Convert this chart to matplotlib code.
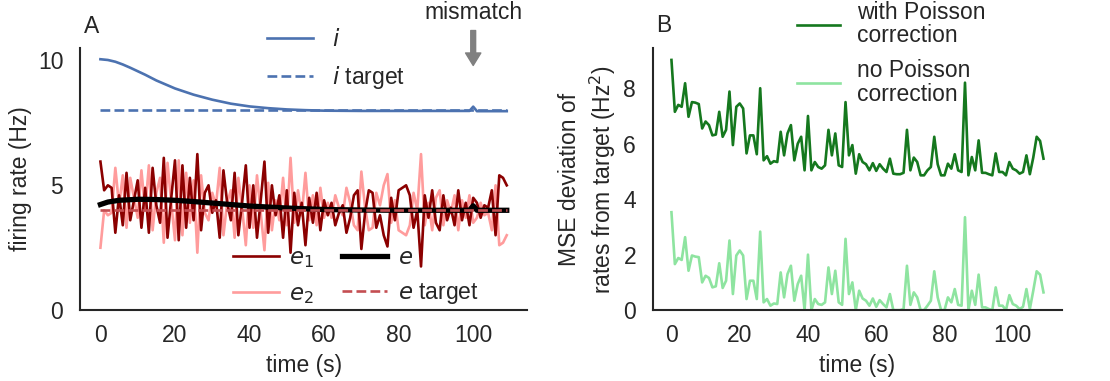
import numpy as np
import matplotlib
matplotlib.use("Agg")
import matplotlib.pyplot as plt

plt.rcParams['font.family'] = ['Liberation Sans', 'DejaVu Sans']
plt.rcParams['font.size'] = 16.5
plt.rcParams['text.color'] = '#262626'
plt.rcParams['axes.labelcolor'] = '#262626'
plt.rcParams['xtick.color'] = '#262626'
plt.rcParams['ytick.color'] = '#262626'

# time axis (s)
t = list(range(110))

# smooth rates (coarse samples)
i_time = [0, 2, 4, 6, 8, 10, 12, 15, 20, 25, 30, 35, 40, 45, 50, 55, 60, 70, 80, 90,
          99, 100, 101, 109]
i_rate = [10.05, 10.02, 9.95, 9.84, 9.71, 9.57, 9.43, 9.2, 8.88, 8.63, 8.43, 8.27,
          8.16, 8.09, 8.04, 8.01, 7.99, 7.98, 7.98, 7.98, 7.98, 8.15, 7.97, 7.97]
e_time = [0, 2, 5, 10, 15, 20, 25, 30, 35, 40, 45, 50, 55, 60, 70, 80, 90, 99, 100, 101, 109]
e_rate = [4.23, 4.33, 4.40, 4.44, 4.43, 4.40, 4.35, 4.29, 4.23, 4.17, 4.13, 4.09, 4.06,
          4.03, 4.01, 4.0, 4.0, 4.0, 4.18, 4.0, 4.0]
i_target = 8.0
e_target = 4.0

e1 = [5.95, 4.8, 5.0, 4.9, 3.1, 4.6, 3.4, 5.5, 3.6, 4.4, 5.2, 3.3, 4.9, 3.1, 5.7, 4.2,
      3.5, 6.1, 2.9, 4.5, 6.0, 2.8, 5.8, 3.3, 5.3, 3.6, 6.25, 3.2, 4.7, 5.0, 3.9, 4.4,
      2.9, 5.6, 4.3, 3.6, 5.5, 3.0, 4.3, 5.8, 3.3, 5.0, 2.9, 4.4, 5.95, 3.1, 5.0, 3.8,
      4.6, 2.9, 4.8, 2.3, 4.7, 3.4, 4.3, 2.6, 4.5, 3.5, 4.7, 3.2, 4.4, 3.8, 4.3, 3.4,
      3.9, 4.2, 3.1, 3.7, 4.6, 4.8, 2.45, 3.9, 4.8, 4.7, 3.3, 3.8, 3.0, 2.55, 4.5, 3.6,
      4.8, 4.9, 5.0, 4.6, 3.3, 4.0, 1.75, 4.6, 3.7, 4.8, 3.5, 3.2, 4.6, 3.6, 4.1, 3.4,
      4.8, 3.6, 4.3, 3.4, 4.5, 4.3, 3.7, 4.2, 4.1, 4.8, 3.0, 5.4, 5.3, 5.0]
e2 = [2.5, 4.0, 3.8, 3.9, 5.7, 4.2, 5.4, 3.3, 5.3, 4.5, 3.7, 5.6, 4.0, 5.8, 3.2, 4.7,
      5.3, 2.7, 5.9, 4.3, 2.8, 6.0, 3.0, 5.5, 3.5, 5.2, 2.3, 5.4, 3.9, 3.6, 4.7, 4.2,
      5.7, 3.0, 4.3, 4.8, 2.9, 5.3, 4.1, 2.6, 5.0, 3.3, 5.4, 3.9, 2.4, 5.1, 3.2, 4.4,
      3.6, 5.3, 3.4, 6.1, 3.5, 4.8, 3.8, 5.5, 3.6, 4.6, 3.4, 4.9, 3.7, 4.3, 3.7, 4.6,
      4.1, 3.8, 4.9, 4.3, 3.4, 3.2, 5.55, 4.1, 3.2, 3.3, 4.7, 4.2, 5.0, 5.45, 3.5, 4.4,
      3.2, 3.1, 3.0, 3.4, 4.7, 4.0, 6.25, 3.4, 4.3, 3.2, 4.5, 4.8, 3.4, 4.4, 3.9, 4.6,
      3.2, 4.4, 3.7, 4.6, 3.5, 3.7, 4.3, 3.8, 3.9, 3.2, 5.0, 2.6, 2.7, 3.0]

# panel B: MSE of rates from target (Hz^2)
mse_poisson = [9.02, 7.15, 7.4, 7.33, 8.18, 6.97, 7.5, 7.48, 7.43, 6.55, 6.8, 6.67, 6.3,
               6.33, 7.15, 6.25, 6.5, 7.88, 5.95, 7.33, 7.45, 7.27, 5.65, 6.3, 6.3, 5.62,
               8.0, 5.4, 5.55, 5.28, 5.37, 5.34, 6.43, 5.58, 6.37, 6.67, 5.4, 6.0, 6.25,
               5.04, 7.0, 5.04, 5.34, 5.16, 5.1, 5.22, 6.5, 5.58, 6.37, 5.22, 5.16, 7.5,
               5.58, 5.95, 4.92, 5.62, 5.34, 5.26, 5.04, 5.3, 5.02, 5.26, 5.1, 4.98, 5.46,
               4.92, 4.9, 4.9, 4.95, 6.5, 5.04, 5.5, 5.34, 4.86, 4.86, 5.04, 5.16, 6.25,
               5.26, 4.86, 4.86, 5.28, 5.1, 5.62, 5.04, 4.98, 8.2, 4.86, 5.52, 5.04, 6.12,
               4.95, 4.95, 4.9, 4.86, 5.65, 4.98, 4.98, 4.86, 5.34, 5.1, 5.04, 4.92, 4.98,
               5.58, 4.9, 5.5, 6.25, 6.1, 5.46]
mse_no_poisson = [3.53, 1.66, 1.88, 1.81, 2.63, 1.42, 1.97, 1.93, 1.91, 1.0, 1.24, 1.16,
                  0.82, 0.86, 1.69, 0.8, 1.06, 2.51, 0.58, 1.97, 2.15, 1.97, 0.4, 1.06,
                  1.06, 0.4, 2.83, 0.28, 0.4, 0.16, 0.24, 0.22, 1.36, 0.46, 1.3, 1.6, 0.34,
                  0.94, 1.24, 0.0, 2.0, 0.0, 0.4, 0.22, 0.19, 0.28, 1.54, 0.58, 1.42, 0.28,
                  0.19, 2.57, 0.58, 1.0, 0.0, 0.7, 0.42, 0.34, 0.16, 0.42, 0.12, 0.36, 0.22,
                  0.1, 0.58, 0.0, 0.0, 0.0, 0.04, 1.6, 0.19, 0.64, 0.46, 0.0, 0.0, 0.16,
                  0.34, 1.4, 0.46, 0.0, 0.0, 0.46, 0.28, 0.76, 0.19, 0.16, 3.35, 0.0, 0.7,
                  0.19, 1.28, 0.1, 0.1, 0.04, 0.0, 0.82, 0.16, 0.16, 0.0, 0.54, 0.22, 0.16,
                  0.04, 0.12, 0.76, 0.04, 0.7, 1.4, 1.28, 0.64]

fig = plt.figure(figsize=(11.1, 3.81), dpi=100)
ax1 = fig.add_axes([0.072, 0.186, 0.403, 0.688])
ax2 = fig.add_axes([0.588, 0.186, 0.369, 0.688])

blue = '#4c72b0'
red_t = '#c44e52'
lw = 1.9

l_i, = ax1.plot(i_time, i_rate, color=blue, lw=lw, label='$i$')
l_it, = ax1.plot([t[0], t[-1]], [i_target, i_target], color=blue, lw=lw, ls='--',
                 label='$i$ target')
l_e2, = ax1.plot(t, e2, color='#ff9c9c', lw=lw, label='$e_2$')
l_e1, = ax1.plot(t, e1, color='#8b0000', lw=lw, label='$e_1$')
l_e, = ax1.plot(e_time, e_rate, color='black', lw=3.8, label='$e$')
l_et, = ax1.plot([t[0], t[-1]], [e_target, e_target], color=red_t, lw=lw, ls='--',
                 label='$e$ target')

ax1.set_xlim(-5.5, 114.5)
ax1.set_ylim(0, 10.5)
ax1.set_yticks([0, 5, 10])
ax1.set_xticks([0, 20, 40, 60, 80, 100])
ax1.set_xlabel('time (s)', labelpad=5)
ax1.set_ylabel('firing rate (Hz)')

leg1 = ax1.legend(handles=[l_i, l_it], loc='upper left', bbox_to_anchor=(0.398, 1.11),
                  frameon=False, handlelength=2.0, handletextpad=0.85,
                  labelspacing=0.55, borderaxespad=0)
ax1.add_artist(leg1)
ax1.legend(handles=[l_e1, l_e2, l_e, l_et], loc='lower left', ncol=2,
           bbox_to_anchor=(0.322, -0.021), frameon=False, handlelength=2.0,
           handletextpad=0.45, labelspacing=0.55, columnspacing=1.2, borderaxespad=0)

ax1.annotate('', xy=(100, 9.8), xytext=(100, 11.2), annotation_clip=False,
             arrowprops=dict(facecolor='grey', edgecolor='grey', width=3.5, headwidth=11,
                             headlength=9, shrink=0.0))
ax1.text(100, 11.45, 'mismatch', ha='center', va='bottom')
ax1.text(-4.5, 10.9, 'A', va='bottom', ha='left')

l_p, = ax2.plot(t, mse_poisson, color='#15781e', lw=lw,
                label='with Poisson\ncorrection')
l_np, = ax2.plot(t, mse_no_poisson, color='#8ee4a0', lw=lw,
                 label='no Poisson\ncorrection')
ax2.set_xlim(-5.5, 114.5)
ax2.set_ylim(0, 9.45)
ax2.set_yticks([0, 2, 4, 6, 8])
ax2.set_xticks([0, 20, 40, 60, 80, 100])
ax2.set_xlabel('time (s)', labelpad=5)
ax2.set_ylabel('MSE deviation of\nrates from target (Hz$^2$)', linespacing=1.3)
leg2 = ax2.legend(handles=[l_p, l_np], loc='upper left', bbox_to_anchor=(0.329, 1.216),
                  frameon=False, handlelength=1.9, handletextpad=0.75, labelspacing=0.5,
                  borderaxespad=0)
for txt in leg2.get_texts():
    txt.set_linespacing(1.05)
ax2.text(-4.5, 9.85, 'B', va='bottom', ha='left')

for ax in (ax1, ax2):
    ax.spines['top'].set_visible(False)
    ax.spines['right'].set_visible(False)
    for s in ('left', 'bottom'):
        ax.spines[s].set_linewidth(1.5)
        ax.spines[s].set_color('#262626')
    ax.tick_params(axis='x', length=0, pad=10)
    ax.tick_params(axis='y', length=0, pad=12)

fig.savefig('out.png', dpi=100)
